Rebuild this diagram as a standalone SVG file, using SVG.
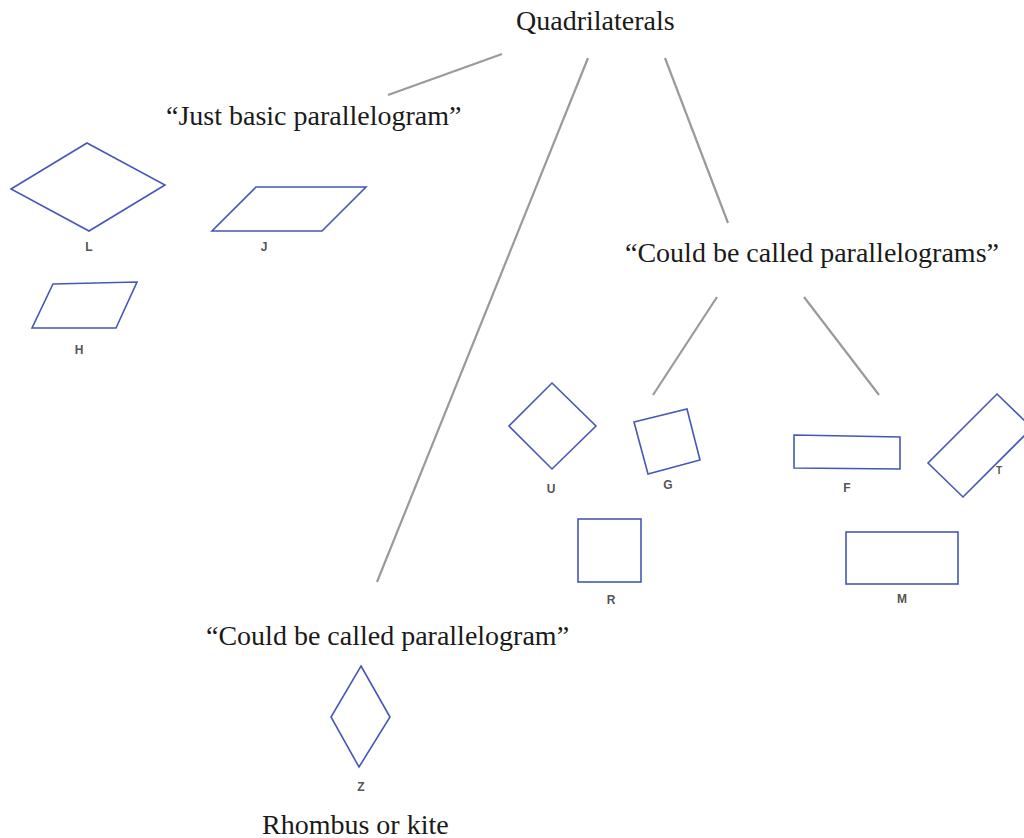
<svg xmlns="http://www.w3.org/2000/svg" width="1024" height="838" viewBox="0 0 1024 838">
<style>
.t{font-family:"Liberation Serif","Times New Roman",serif;font-size:28px;fill:#1a1a1a}
.s{fill:none;stroke:#4657b8;stroke-width:1.6;stroke-linejoin:miter}
.l{font-family:"Liberation Sans",Arial,sans-serif;font-size:12px;font-weight:bold;fill:#555;text-anchor:middle}
.c{stroke:#9a9a9a;stroke-width:2.2;stroke-linecap:butt}
</style>
<rect width="1024" height="838" fill="#fff"/>
<g id="connectors">
<line class="c" x1="502" y1="54" x2="388" y2="95"/>
<line class="c" x1="588" y1="58" x2="377" y2="582"/>
<line class="c" x1="665" y1="58" x2="728" y2="223"/>
<line class="c" x1="717" y1="297" x2="653" y2="395"/>
<line class="c" x1="804" y1="297" x2="879" y2="395"/>
</g>
<g id="quadrilaterals"><text class="t" x="516" y="30">Quadrilaterals</text></g>
<g id="just-basic"><text class="t" x="166" y="125">“Just basic parallelogram”</text></g>
<g id="could-plural"><text class="t" x="625" y="262">“Could be called parallelograms”</text></g>
<g id="could-single"><text class="t" x="206" y="645">“Could be called parallelogram”</text></g>
<g id="rhombus-kite"><text class="t" x="262" y="834">Rhombus or kite</text></g>
<g id="shape-L"><polygon class="s" points="87,143 165,185 89,231 11,189"/><text class="l" x="89" y="251">L</text></g>
<g id="shape-J"><polygon class="s" points="256,187 366,187 322,231 212,231"/><text class="l" x="264" y="251">J</text></g>
<g id="shape-H"><polygon class="s" points="53,284 137,282 116,328 32,328"/><text class="l" x="79" y="354">H</text></g>
<g id="shape-U"><polygon class="s" points="552,383 596,426 552,469 509,426"/><text class="l" x="551" y="493">U</text></g>
<g id="shape-G"><polygon class="s" points="634,422 687,409 700,460 648,474"/><text class="l" x="668" y="489">G</text></g>
<g id="shape-F"><polygon class="s" points="794,435 900,437 900,469 794,468"/><text class="l" x="847" y="492">F</text></g>
<g id="shape-T"><polygon class="s" points="997,394 1032,428 963,497 928,463"/><text class="l" x="999" y="474" style="font-size:10px">T</text></g>
<g id="shape-R"><rect class="s" x="578" y="519" width="63" height="63"/><text class="l" x="611" y="604">R</text></g>
<g id="shape-M"><rect class="s" x="846" y="532" width="112" height="52"/><text class="l" x="902" y="603">M</text></g>
<g id="shape-Z"><polygon class="s" points="361,666 390,717 359,767 331,717"/><text class="l" x="361" y="791">Z</text></g>
</svg>
